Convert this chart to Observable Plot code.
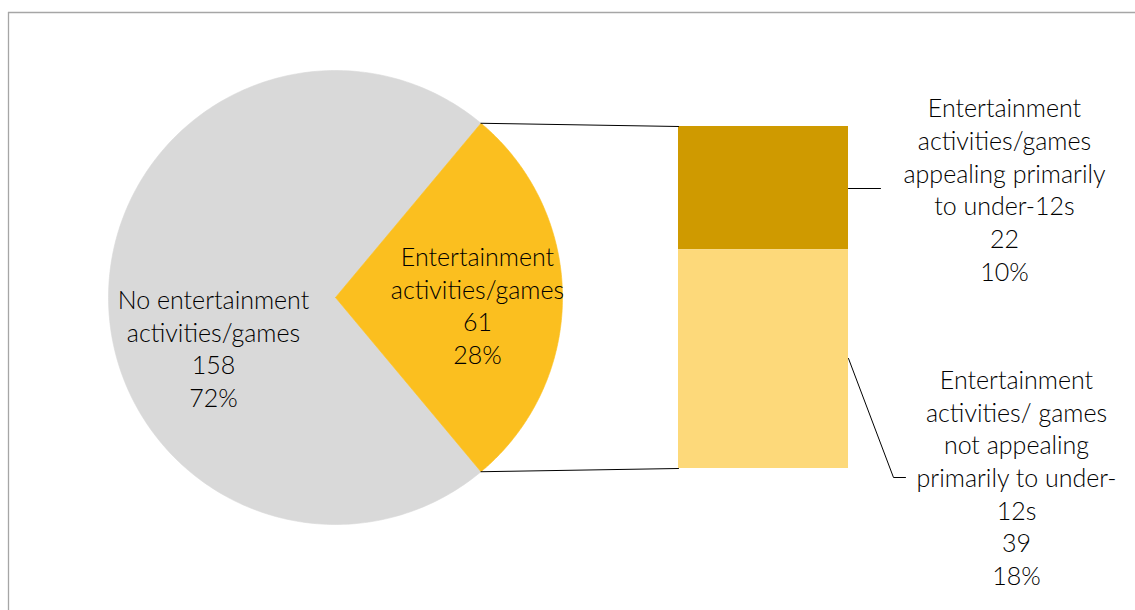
<!DOCTYPE html>
<html>
<head>
<meta charset="utf-8">
<script src="https://cdn.jsdelivr.net/npm/d3@7"></script>
<script src="https://cdn.jsdelivr.net/npm/@observablehq/plot@0.6"></script>
<style>
  html, body { margin: 0; padding: 0; background: #fff; }
  #chart { width: 1135px; height: 610px; }
</style>
</head>
<body>
<div id="chart"></div>
<script>
// ---- Data ----
const pieCategories = ["No entertainment activities/games", "Entertainment activities/games"];
const pieValues = [158, 61];
const pieLabelLines = [["No entertainment", "activities/games"], ["Entertainment", "activities/games"]];
const pieColors = ["#d9d9d9", "#fbbf1f"];

const subCategories = [
  "Entertainment activities/games appealing primarily to under-12s",
  "Entertainment activities/ games not appealing primarily to under-12s"
];
const subValues = [22, 39];
const subLabelLines = [
  ["Entertainment", "activities/games", "appealing primarily", "to under-12s"],
  ["Entertainment", "activities/ games", "not appealing", "primarily to under-", "12s"]
];
const subColors = ["#cf9a00", "#fdd97a"];

// ---- Layout (pixels) ----
const W = 1135, H = 610;
const pieCx = 335, pieCy = 297, pieR = 227;
const barX1 = 678, barX2 = 848, barTop = 126, barBottom = 468;
const pieLabelPos = [[213, 347], [477, 304]];
const subLabelPos = [[1004, 188], [1016, 476]];
const leaders = [
  [[848, 188], [880, 188]],
  [[848, 358], [893, 477], [905, 477]]
];

const total = d3.sum(pieValues);
const pct = v => Math.round(v / total * 100) + "%";

// pie wedges: exploded slice (index 1) centred on the right (angle 0)
const splitAngle = pieValues[1] / total * 2 * Math.PI;
const wedgeRanges = [
  [splitAngle / 2, 2 * Math.PI - splitAngle / 2],
  [-splitAngle / 2, splitAngle / 2]
];
const pt = a => ({x: pieCx + pieR * Math.cos(a), y: pieCy - pieR * Math.sin(a)});
const wedges = wedgeRanges.map(([a0, a1], i) => {
  const n = 240;
  const pts = [{x: pieCx, y: pieCy}];
  for (let k = 0; k <= n; k++) pts.push(pt(a0 + (a1 - a0) * k / n));
  pts.push({x: pieCx, y: pieCy});
  return pts;
});

// bar segments
const subTotal = d3.sum(subValues);
const barScale = d3.scaleLinear([0, subTotal], [barTop, barBottom]);
let acc = 0;
const barSegs = subValues.map((v, i) => {
  const s = {y1: barScale(acc), y2: barScale(acc + v), fill: subColors[i]};
  acc += v;
  return s;
});

// connector lines from slice edge to bar corners
const topEdge = pt(splitAngle / 2), botEdge = pt(-splitAngle / 2);
const connectors = [
  [topEdge, {x: barX1, y: barTop}],
  [botEdge, {x: barX1, y: barBottom}]
];

const pieLabels = pieValues.map((v, i) => ({
  x: pieLabelPos[i][0], y: pieLabelPos[i][1],
  text: [...pieLabelLines[i], String(v), pct(v)].join("\n")
}));
const subLabels = subValues.map((v, i) => ({
  x: subLabelPos[i][0], y: subLabelPos[i][1],
  text: [...subLabelLines[i], String(v), pct(v)].join("\n")
}));

const textOpts = {
  x: "x", y: "y", text: "text",
  fontSize: 25, lineHeight: 1.305, fontFamily: "Lato, 'Open Sans', sans-serif",
  fontWeight: 300, fill: "#000", textAnchor: "middle", lineAnchor: "middle"
};

const marks = [];
// chart-area border (top and left visible)
marks.push(Plot.ruleY([12], {x1: 8, x2: W, stroke: "#a6a6a6", strokeWidth: 1.3}));
marks.push(Plot.ruleX([8], {y1: 12, y2: H, stroke: "#a6a6a6", strokeWidth: 1.3}));
wedges.forEach((w, i) => {
  marks.push(Plot.line(w, {x: "x", y: "y", fill: pieColors[i], stroke: pieColors[i], strokeWidth: 0.6, curve: "linear"}));
});
barSegs.forEach(s => {
  marks.push(Plot.rect([s], {x1: () => barX1, x2: () => barX2, y1: "y1", y2: "y2", fill: s.fill}));
});
connectors.forEach(c => marks.push(Plot.line(c, {x: "x", y: "y", stroke: "#000", strokeWidth: 1})));
leaders.forEach(l => marks.push(Plot.line(l.map(([x, y]) => ({x, y})), {x: "x", y: "y", stroke: "#000", strokeWidth: 1})));
marks.push(Plot.text(pieLabels, textOpts));
marks.push(Plot.text(subLabels, textOpts));

const chart = Plot.plot({
  width: W, height: H,
  margin: 0,
  x: {type: "linear", domain: [0, W], range: [0, W], axis: null},
  y: {type: "linear", domain: [0, H], range: [0, H], axis: null},
  style: {background: "#fff", overflow: "visible"},
  marks
});
document.getElementById("chart").appendChild(chart);
</script>
</body>
</html>
